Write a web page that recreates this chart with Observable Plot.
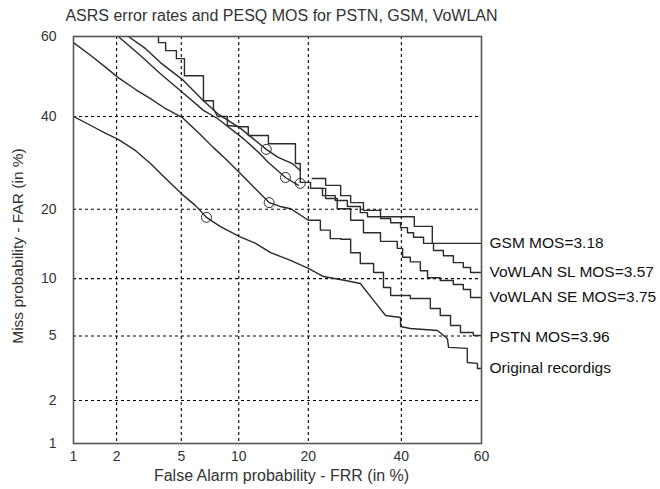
<!DOCTYPE html>
<html>
<head>
<meta charset="utf-8">
<script src="https://cdn.jsdelivr.net/npm/d3@7"></script>
<script src="https://cdn.jsdelivr.net/npm/@observablehq/plot@0.6"></script>
<style>
  html, body { margin: 0; padding: 0; background: #fff; }
  #chart { width: 660px; height: 489px; }
</style>
</head>
<body>
<div id="chart"></div>
<script>
// ---- Data (percent values) ----
const titleText = "ASRS error rates and PESQ MOS for PSTN, GSM, VoWLAN";
const xLabel = "False Alarm probability - FRR (in %)";
const yLabel = "Miss probability - FAR (in %)";
const tickLabels = [1, 2, 5, 10, 20, 40, 60];
const gridLabels = [2, 5, 10, 20, 40];

const seriesNames = ["GSM MOS=3.18", "VoWLAN SL MOS=3.57", "VoWLAN SE MOS=3.75", "PSTN MOS=3.96", "Original recordigs"];

const gsmFRR = [3.68, 3.68, 4.06, 4.06, 4.69, 4.69, 5.21, 5.21, 6.62, 6.62, 7.47, 7.47, 7.84, 8.80, 8.80, 10.2, 11.1, 11.1, 13.7, 13.7, 17.8, 17.8, 18.6, 18.6, 20.4, 20.4, 22.6, 22.6, 25.1, 25.1, 27.6, 27.6, 30.4, 30.4, 32.0, 32.0, 43.2, 43.2, 47.7, 47.7, 60];
const gsmFAR = [60, 58.5, 58.5, 56.5, 56.5, 54.5, 54.5, 50.2, 50.2, 43.9, 43.9, 41.9, 40.0, 40.0, 37.8, 37.5, 37.5, 35.4, 35.4, 33.5, 33.5, 29.05, 29.05, 25.1, 25.1, 23.9, 23.9, 22.5, 22.5, 21.6, 21.6, 20.5, 20.5, 19.4, 19.4, 18.7, 18.7, 17.1, 17.1, 14.5, 14.5];

const slFRR = [2.39, 3.07, 3.78, 5.14, 6.62, 7.84, 10.2, 10.8, 13.4, 15.1, 17.3, 18.6, 20.7, 23.2, 26.2, 28.3, 31.1, 35.0, 37.4, 39.8, 41.5, 43.0, 45.5, 48.0, 50.5, 53.0, 55.5, 57.3, 60];
const slFAR = [60, 57.0, 53.5, 49.0, 43.9, 40.7, 37.1, 36.1, 32.2, 30.4, 29.05, 27.55, 25.9, 24.5, 22.5, 21.2, 19.8, 18.4, 17.7, 16.9, 16.1, 15.4, 14.5, 13.5, 12.8, 11.9, 11.3, 10.7, 10.7];

const seFRR = [2.05, 2.85, 3.78, 4.95, 6.62, 7.84, 10.2, 10.8, 12.4, 13.7, 16.2, 18.3, 20.7, 23.2, 25.5, 28.3, 31.1, 35.0, 39.0, 40.3, 42.2, 44.7, 46.5, 49.7, 53.0, 55.5, 57.3, 60];
const seFAR = [60, 55.3, 50.7, 46.4, 41.5, 39.5, 35.2, 34.2, 31.5, 29.3, 26.1, 24.5, 23.9, 21.95, 20.1, 18.1, 16.1, 14.8, 13.8, 12.6, 12.0, 10.9, 10.1, 9.8, 9.37, 8.85, 8.06, 8.06];

const pstnFRR = [1, 1.33, 1.69, 2.05, 2.66, 3.29, 4.06, 5.08, 6.39, 7.47, 8.61, 10.1, 11.7, 13.8, 15.4, 17.0, 20.0, 22.2, 24.1, 26.2, 28.3, 30.4, 33.4, 35.7, 37.4, 42.2, 47.2, 49.7, 52.3, 54.8, 58.0, 60];
const pstnFAR = [58.5, 55.3, 52.3, 49.7, 46.7, 44.4, 41.9, 39.7, 35.6, 32.6, 30.1, 27.1, 24.3, 21.2, 20.5, 20.1, 18.1, 16.5, 15.2, 15.1, 13.2, 11.8, 10.7, 9.05, 8.25, 7.97, 7.07, 6.49, 5.72, 5.23, 5.03, 4.90];

const origFRR = [1, 1.33, 1.69, 2.05, 2.66, 3.29, 4.06, 5.08, 6.0, 6.87, 8.12, 10.1, 12.0, 14.0, 17.0, 20.0, 22.8, 27.2, 30.4, 33.4, 36.2, 39.8, 39.8, 42.2, 49.0, 51.5, 51.8, 56.5, 56.5, 59.0, 59.0, 60];
const origFAR = [40.0, 37.8, 35.9, 34.5, 31.9, 29.05, 25.9, 22.7, 20.65, 18.6, 17.07, 15.5, 14.5, 13.2, 12.2, 11.2, 10.24, 9.8, 9.47, 7.79, 6.49, 6.33, 5.65, 5.51, 5.37, 4.84, 4.30, 4.24, 3.49, 3.45, 3.21, 3.21];

// operating points marked with circles (GSM, SL, SE, PSTN, Original)
const markFRR = [18.6, 13.4, 16.2, 13.8, 6.87];
const markFAR = [24.9, 32.2, 26.1, 21.2, 18.6];

// series whose right-hand part (FRR >= stepFrom) is drawn as a staircase
const steppedSeries = ["VoWLAN SL MOS=3.57", "VoWLAN SE MOS=3.75", "PSTN MOS=3.96"];
const stepFrom = 20;

// ---- Probit (normal deviate) transform for DET axes ----
function probit(p) {
  const a = [-3.969683028665376e+01, 2.209460984245205e+02, -2.759285104469687e+02, 1.383577518672690e+02, -3.066479806614716e+01, 2.506628277459239e+00];
  const b = [-5.447609879822406e+01, 1.615858368580409e+02, -1.556989798598866e+02, 6.680131188771972e+01, -1.328068155288572e+01];
  const c = [-7.784894002430293e-03, -3.223964580411365e-01, -2.400758277161838e+00, -2.549732539343734e+00, 4.374664141464968e+00, 2.938163982698783e+00];
  const d = [7.784695709041462e-03, 3.224671290700398e-01, 2.445134137142996e+00, 3.754408661907416e+00];
  const plow = 0.02425, phigh = 1 - plow;
  let q, r;
  if (p < plow) {
    q = Math.sqrt(-2 * Math.log(p));
    return (((((c[0]*q+c[1])*q+c[2])*q+c[3])*q+c[4])*q+c[5]) / ((((d[0]*q+d[1])*q+d[2])*q+d[3])*q+1);
  }
  if (p <= phigh) {
    q = p - 0.5; r = q * q;
    return (((((a[0]*r+a[1])*r+a[2])*r+a[3])*r+a[4])*r+a[5])*q / (((((b[0]*r+b[1])*r+b[2])*r+b[3])*r+b[4])*r+1);
  }
  q = Math.sqrt(-2 * Math.log(1 - p));
  return -(((((c[0]*q+c[1])*q+c[2])*q+c[3])*q+c[4])*q+c[5]) / ((((d[0]*q+d[1])*q+d[2])*q+d[3])*q+1);
}
const pz = (pct) => probit(pct / 100);

// ---- Build tables ----
const frrs = [gsmFRR, slFRR, seFRR, pstnFRR, origFRR];
const fars = [gsmFAR, slFAR, seFAR, pstnFAR, origFAR];
const smoothRows = [];
const stepRows = [];
seriesNames.forEach((name, s) => {
  const stepped = steppedSeries.includes(name);
  frrs[s].forEach((v, i) => {
    const row = {series: name, frr: v, far: fars[s][i]};
    if (!stepped || v <= stepFrom) smoothRows.push(row);
    if (stepped && v >= stepFrom) stepRows.push(row);
  });
});
const ends = seriesNames.map((name, s) => ({
  series: name,
  frr: frrs[s][frrs[s].length - 1],
  far: fars[s][fars[s].length - 1]
}));
const marks = markFRR.map((v, i) => ({frr: v, far: markFAR[i]}));

const tickZ = tickLabels.map(pz);
const fmt = (d) => {
  const i = tickZ.findIndex((t) => Math.abs(t - d) < 1e-9);
  return i >= 0 ? String(tickLabels[i]) : "";
};

const font = "'Liberation Sans', Arial, Helvetica, sans-serif";
const lineColor = "#2b2b2b";

const chart = Plot.plot({
  width: 660,
  height: 489,
  marginLeft: 73,
  marginRight: 179,
  marginTop: 36,
  marginBottom: 46,
  style: {fontFamily: font, background: "#fff", overflow: "visible"},
  x: {type: "linear", domain: [pz(1), pz(60)]},
  y: {type: "linear", domain: [pz(1), pz(60)]},
  marks: [
    Plot.gridX(gridLabels.map(pz), {stroke: "#000", strokeOpacity: 1, strokeWidth: 1.1, strokeDasharray: "3,3"}),
    Plot.gridY(gridLabels.map(pz), {stroke: "#000", strokeOpacity: 1, strokeWidth: 1.1, strokeDasharray: "3,3"}),
    Plot.line(smoothRows, {
      x: (d) => pz(d.frr), y: (d) => pz(d.far), z: "series",
      stroke: lineColor, strokeWidth: 1.4, clip: true
    }),
    Plot.line(stepRows, {
      x: (d) => pz(d.frr), y: (d) => pz(d.far), z: "series", curve: "step-after",
      stroke: lineColor, strokeWidth: 1.4, clip: true
    }),
    Plot.dot(marks, {x: (d) => pz(d.frr), y: (d) => pz(d.far), r: 5, stroke: lineColor, strokeWidth: 1, fill: "none"}),
    Plot.frame({stroke: "#555", strokeWidth: 1.6}),
    Plot.axisX(tickZ, {tickSize: 0, tickPadding: 8, tickFormat: fmt, fontSize: 14, fill: "#333", label: null}),
    Plot.axisY(tickZ, {tickSize: 0, tickPadding: 17, tickFormat: fmt, fontSize: 14, fill: "#333", label: null}),
    Plot.text(ends, {
      x: (d) => pz(d.frr), y: (d) => pz(d.far), text: "series",
      dx: 8, textAnchor: "start", lineAnchor: "middle", fontSize: 15.5, fill: "#111"
    }),
    Plot.text([titleText], {frameAnchor: "top", textAnchor: "middle", lineAnchor: "middle", dy: -21, dx: 4, fontSize: 16, fill: "#333"}),
    Plot.text([xLabel], {frameAnchor: "bottom", textAnchor: "middle", lineAnchor: "middle", dy: 32, dx: 4, fontSize: 16, fill: "#333"}),
    Plot.text([yLabel], {frameAnchor: "left", textAnchor: "middle", lineAnchor: "middle", rotate: -90, dx: -55, dy: 6, fontSize: 15.5, fill: "#333"})
  ]
});
document.getElementById("chart").appendChild(chart);
</script>
</body>
</html>
